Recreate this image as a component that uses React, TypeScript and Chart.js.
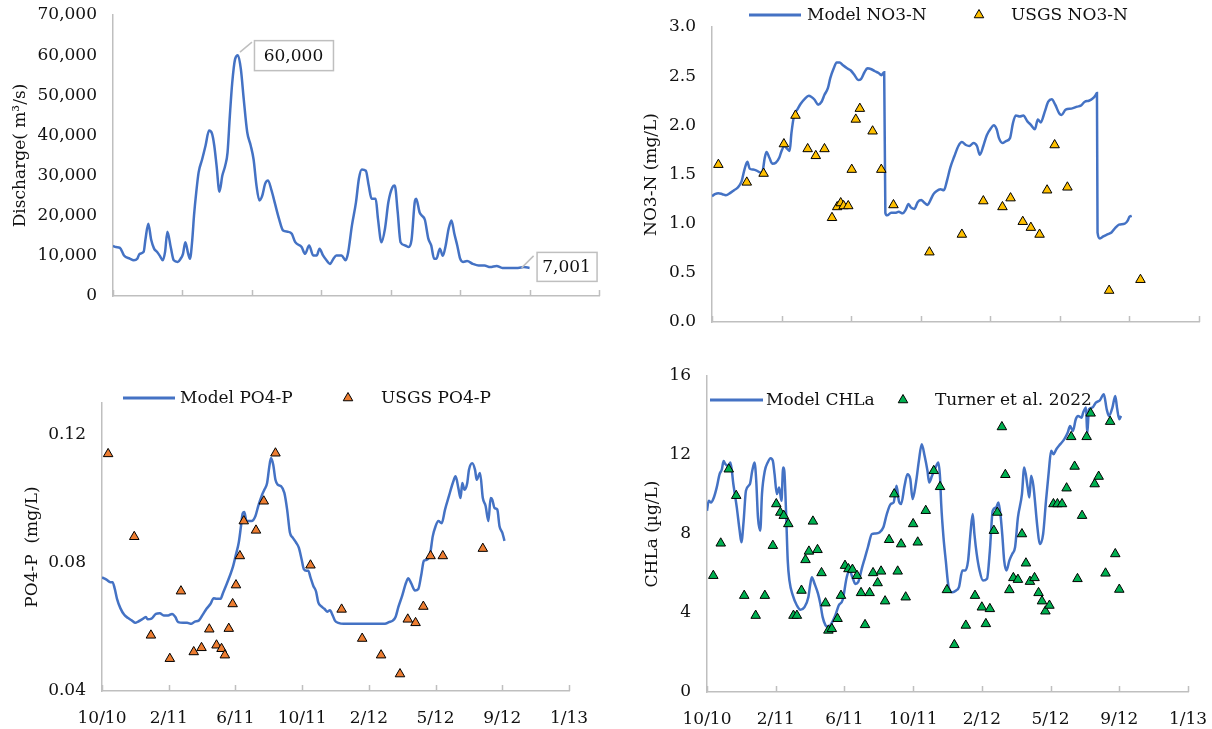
import React, { useEffect, useRef } from "react";
import { Chart, registerables } from "chart.js";
Chart.register(...registerables);

const FONT = "'DejaVu Serif', serif";
const BLUE = "#4472C4";
const AXIS = "#BFBFBF";
const TXT = "#111111";
const FS = 17;

// x axis: days since 10/9/2010, tick every 120 days
const tickLabels = ["10/10", "2/11", "6/11", "10/11", "2/12", "5/12", "9/12", "1/13"];
const TICK_STEP = 120;

// ---- Discharge (m3/s) ----
const dischargeDays = [0,5,12,19,29,36,42,46,53,56,61,66,71,76,81,86,90,94,100,105,112,117,121,125,130,133,137,140,144,148,154,160,166,171,175,179,184,189,194,198,202,206,211,216,221,226,232,238,243,248,253,258,263,268,274,280,287,294,302,309,315,326,332,339,346,352,357,363,369,375,381,386,395,402,406,413,420,425,430,437,442,447,454,458,464,470,476,483,487,492,497,505,511,516,522,524,530,534,539,545,550,555,559,565,570,575,580,585,590,595,600,605,612,622,632,642,652,663,673,686,700,710,720];
const dischargeValues = [12500,12200,12000,10100,9300,8900,9300,10500,11000,14000,18000,14000,11800,11000,10000,8900,11000,16000,12000,8900,8500,9300,10500,13400,10500,9300,14000,20000,26000,30800,34000,37500,41200,40500,37500,32500,26000,30000,32500,35800,45000,53000,59000,60000,56500,49000,40800,37500,34000,27500,23800,25000,28000,28800,26300,23000,19200,16300,16000,15500,13400,12200,10500,12600,10100,10100,11800,10100,8900,8000,9300,10100,10100,8900,10500,17600,23400,29200,31500,31200,27500,24200,24200,19200,13400,16700,23400,27100,27500,21000,13400,12600,12200,14000,23800,24200,20800,20000,19000,14300,12600,9300,9300,11800,10000,12600,16700,18800,15500,12600,9300,8500,8700,8000,7600,7600,7200,7500,7000,7000,7000,7200,7001];

// ---- NO3-N ----
const no3ModelDays = [0,5,11,18,24,31,38,44,51,56,61,65,71,77,84,87,91,94,99,104,110,116,120,125,130,134,137,142,147,153,160,167,171,177,183,189,194,200,204,210,215,220,226,233,239,246,252,257,263,268,275,281,288,292,297,299,302,309,316,322,329,334,339,343,349,355,361,365,372,376,382,387,394,400,405,411,418,425,431,438,444,451,457,462,468,474,481,486,491,495,501,507,514,519,524,531,537,544,550,557,562,567,574,580,586,592,599,603,610,620,630,636,643,650,656,661,664,665,669,675,682,689,696,702,712,717,720,724];
const no3ModelValues = [1.28,1.30,1.31,1.30,1.29,1.31,1.34,1.365,1.43,1.55,1.63,1.56,1.55,1.54,1.52,1.53,1.67,1.73,1.67,1.61,1.62,1.67,1.74,1.79,1.76,1.74,1.92,2.11,2.16,2.22,2.27,2.30,2.29,2.26,2.21,2.24,2.31,2.38,2.48,2.58,2.64,2.64,2.61,2.58,2.56,2.51,2.46,2.47,2.54,2.58,2.57,2.55,2.53,2.51,2.54,1.11,1.085,1.11,1.11,1.12,1.105,1.14,1.20,1.165,1.15,1.22,1.24,1.22,1.19,1.23,1.30,1.33,1.35,1.34,1.43,1.57,1.685,1.79,1.83,1.80,1.79,1.82,1.79,1.70,1.79,1.90,1.97,2.00,1.96,1.87,1.82,1.84,1.87,2.02,2.10,2.09,2.10,2.04,2.005,1.96,2.06,2.03,2.14,2.24,2.265,2.21,2.12,2.105,2.16,2.17,2.19,2.20,2.24,2.25,2.27,2.30,2.33,0.91,0.85,0.87,0.89,0.91,0.96,0.99,1.00,1.03,1.07,1.08];
const no3UsgsDays = [11,60,89,124,144,165,179,194,207,216,222,227,235,241,248,255,277,292,313,375,431,468,501,515,536,550,565,578,591,613,685,739];
const no3UsgsValues = [1.60,1.42,1.51,1.81,2.10,1.76,1.69,1.76,1.06,1.17,1.21,1.18,1.18,1.55,2.06,2.17,1.94,1.55,1.19,0.71,0.89,1.23,1.17,1.26,1.02,0.96,0.89,1.34,1.80,1.37,0.32,0.43];

// ---- PO4-P ----
const po4ModelDays = [0,8,15,19,23,27,33,40,47,54,60,65,72,79,82,89,97,104,111,119,126,132,137,146,153,161,167,174,181,188,195,201,206,213,218,223,230,236,241,246,250,253,256,260,269,276,281,287,292,297,301,304,308,312,316,322,328,333,338,343,349,354,359,363,368,371,375,380,385,389,394,400,405,410,415,419,425,435,449,470,491,509,516,523,528,533,540,547,551,556,563,569,574,579,584,590,595,600,605,611,617,624,631,636,641,645,648,652,657,660,666,671,674,680,685,690,695,699,702,706,711,715,720,724];
const po4ModelValues = [0.0755,0.0748,0.0740,0.0740,0.0719,0.0688,0.0659,0.0638,0.0628,0.0620,0.0613,0.0617,0.0624,0.0631,0.0624,0.0626,0.0641,0.0643,0.0636,0.0636,0.0641,0.0631,0.0615,0.0613,0.0613,0.0610,0.0617,0.0620,0.0638,0.0657,0.0672,0.0690,0.0688,0.0688,0.0708,0.0729,0.0760,0.0791,0.0827,0.0864,0.0915,0.0955,0.0959,0.0931,0.0931,0.0947,0.0978,0.1009,0.1029,0.1050,0.1102,0.1128,0.1107,0.1060,0.1045,0.1040,0.1019,0.0967,0.0895,0.0879,0.0864,0.0848,0.0812,0.0781,0.0776,0.0776,0.0755,0.0729,0.0711,0.0677,0.0665,0.0657,0.0648,0.0652,0.0636,0.0620,0.0613,0.0610,0.0610,0.0610,0.0610,0.0610,0.0615,0.0620,0.0631,0.0662,0.0698,0.0739,0.0752,0.0737,0.0714,0.0719,0.0760,0.0807,0.0810,0.0827,0.0884,0.0915,0.0931,0.0924,0.0967,0.1009,0.1050,0.1071,0.1034,0.1003,0.1050,0.1029,0.1050,0.1091,0.1112,0.1091,0.1060,0.1081,0.1003,0.0978,0.0931,0.1003,0.0998,0.0972,0.0967,0.0915,0.0895,0.0869];
const po4UsgsDays = [11,58,88,122,142,165,179,193,206,215,221,228,235,241,248,255,277,291,312,375,431,468,502,536,550,564,578,591,613,685];
const po4UsgsValues = [0.1141,0.0882,0.0574,0.0501,0.0712,0.0522,0.0535,0.0593,0.0543,0.0532,0.0512,0.0595,0.0672,0.0731,0.0822,0.0931,0.0902,0.0993,0.1143,0.0793,0.0655,0.0564,0.0512,0.0453,0.0624,0.0613,0.0664,0.0822,0.0822,0.0845];
const po4TickValues = [0.04, 0.08, 0.12];

// ---- CHLa ----
const chlModelDays = [0,3,7,12,17,22,26,29,32,37,41,46,52,57,60,64,68,75,79,83,86,89,93,96,101,106,111,115,118,122,126,130,133,135,138,141,144,150,157,163,170,177,180,183,188,194,198,202,207,212,217,224,230,237,244,249,254,259,264,271,276,281,288,294,301,308,314,321,326,331,335,339,345,350,355,359,365,370,375,380,385,388,393,398,404,407,409,413,417,422,429,435,440,446,451,456,460,464,467,471,476,482,489,494,499,505,509,513,516,519,523,528,533,538,543,550,554,560,563,566,570,577,581,587,592,597,601,605,610,617,624,630,634,639,644,648,654,657,662,664,667,673,679,686,693,698,702,708,713,716,720,723];
const chlModelValues = [9.18,9.68,9.60,9.85,10.36,11.03,11.28,11.7,11.54,11.45,11.62,10.53,9.35,8.17,7.58,8.67,10.19,10.53,11.2,11.62,10.69,8.84,8.17,10.02,11.2,11.62,11.84,11.7,11.03,10.02,10.36,9.68,11.37,11.2,9.18,6.65,5.64,4.88,4.38,4.16,4.29,4.8,5.39,5.81,5.47,4.97,4.46,3.79,3.37,3.28,3.45,3.87,4.38,4.67,5.81,6.15,5.81,5.47,5.56,6.32,6.82,7.33,8.0,8.03,8.08,8.34,9.01,9.52,9.6,10.44,9.68,9.52,10.44,11.03,10.78,9.77,10.61,11.7,12.55,11.96,11.2,10.61,10.95,11.28,11.62,10.86,9.52,7.83,6.65,5.31,5.05,5.14,5.31,6.15,6.15,6.65,8.0,9.01,8.0,6.99,6.15,5.64,5.73,7.16,9.18,9.35,9.6,8.84,7.83,6.65,6.15,6.65,6.99,7.33,8.84,10.02,11.37,10.36,9.85,10.95,10.44,8.34,7.49,8.0,9.68,11.2,12.21,12.04,12.29,12.55,12.8,13.14,13.47,13.22,13.81,13.98,13.89,14.15,14.4,13.05,14.32,14.4,14.65,14.77,15.07,14.32,13.98,14.4,14.99,14.4,13.81,13.98];
const turnerDays = [11,24,38,51,65,85,101,115,121,128,134,142,151,157,165,172,178,185,193,200,207,212,218,228,234,241,247,254,262,269,276,284,290,298,304,311,318,327,333,339,347,360,368,382,396,407,419,432,452,468,480,487,494,501,507,515,521,528,535,543,550,557,564,572,579,585,591,598,605,612,620,628,636,642,647,655,663,670,677,684,696,704,713,720];
const turnerValues = [5.89,7.53,11.28,9.94,4.88,3.87,4.88,7.41,9.52,9.09,8.93,8.51,3.87,3.87,5.14,6.69,7.12,8.64,7.2,6.03,4.5,3.12,3.2,3.71,4.88,6.4,6.23,6.2,5.89,5.02,3.4,5.02,6.03,5.52,6.11,4.6,7.71,10.02,6.11,7.49,4.8,8.51,7.58,9.18,11.2,10.39,5.17,2.39,3.37,4.88,4.29,3.45,4.21,8.17,9.09,13.42,11.0,5.17,5.78,5.69,8.0,6.52,5.59,5.78,5.02,4.6,4.09,4.38,9.52,9.52,9.52,10.32,12.92,11.42,5.73,8.93,12.92,14.11,10.53,10.91,6.01,13.69,6.99,5.19];

const pts = (days: number[], vals: number[]) => days.map((d, i) => ({ x: d, y: vals[i] }));

// ---------- plugins ----------
const innerTicks = {
  id: "innerTicks",
  afterDraw(chart: any) {
    const xs = chart.scales.x;
    const ctx = chart.ctx;
    const bottom = chart.chartArea.bottom;
    ctx.save();
    ctx.strokeStyle = AXIS;
    ctx.lineWidth = 1.5;
    xs.ticks.forEach((t: any) => {
      const px = Math.round(xs.getPixelForValue(t.value)) + 0.5;
      ctx.beginPath();
      ctx.moveTo(px, bottom);
      ctx.lineTo(px, bottom - 6);
      ctx.stroke();
    });
    ctx.restore();
  },
};

function drawTriangle(ctx: any, x: number, y: number, r: number, fill: string) {
  ctx.beginPath();
  ctx.moveTo(x, y - r);
  ctx.lineTo(x + r * 0.866, y + r * 0.5);
  ctx.lineTo(x - r * 0.866, y + r * 0.5);
  ctx.closePath();
  ctx.fillStyle = fill;
  ctx.fill();
  ctx.strokeStyle = "#000";
  ctx.lineWidth = 1;
  ctx.stroke();
}

type LegendItem = { lineFrom?: number; lineTo?: number; markerX?: number; textX: number };
function makeLegend(y: number, items: LegendItem[]) {
  return {
    id: "xlLegend",
    afterDraw(chart: any) {
      const ctx = chart.ctx;
      ctx.save();
      items.forEach((it, i) => {
        const ds: any = chart.data.datasets[i];
        if (it.lineFrom !== undefined) {
          ctx.strokeStyle = ds.borderColor;
          ctx.lineWidth = 3;
          ctx.beginPath();
          ctx.moveTo(it.lineFrom, y);
          ctx.lineTo(it.lineTo, y);
          ctx.stroke();
        } else {
          drawTriangle(ctx, it.markerX as number, y, ds.pointRadius, ds.pointBackgroundColor);
        }
        ctx.fillStyle = TXT;
        ctx.font = `${FS}px ${FONT}`;
        ctx.textBaseline = "middle";
        ctx.textAlign = "left";
        ctx.fillText(ds.label, it.textX, y + 1);
      });
      ctx.restore();
    },
  };
}

const callouts = {
  id: "callouts",
  afterDatasetsDraw(chart: any) {
    const ds = chart.data.datasets[0];
    const meta = chart.getDatasetMeta(0);
    const ys = ds.data.map((p: any) => p.y);
    let maxI = 0;
    ys.forEach((v: number, i: number) => { if (v > ys[maxI]) maxI = i; });
    const lastI = ys.length - 1;
    const ctx = chart.ctx;
    const fmt = (v: number) => v.toLocaleString("en-US");
    const draw = (i: number, lx0: number, ly0: number, lx1: number, ly1: number, bx: number, by: number, bw: number, bh: number) => {
      const p = meta.data[i];
      ctx.save();
      ctx.strokeStyle = AXIS;
      ctx.lineWidth = 1.5;
      ctx.beginPath();
      ctx.moveTo(p.x + lx0, p.y + ly0);
      ctx.lineTo(p.x + lx1, p.y + ly1);
      ctx.stroke();
      ctx.fillStyle = "#fff";
      ctx.fillRect(p.x + bx, p.y + by, bw, bh);
      ctx.strokeRect(p.x + bx + 0.5, p.y + by + 0.5, bw, bh);
      ctx.fillStyle = TXT;
      ctx.font = `${FS}px ${FONT}`;
      ctx.textAlign = "center";
      ctx.textBaseline = "middle";
      ctx.fillText(fmt(ys[i]), p.x + bx + bw / 2, p.y + by + bh / 2 + 1);
      ctx.restore();
    };
    draw(maxI, 2, -3, 14, -13, 16, -15, 79, 30);
    draw(lastI, -8, 0, 4, -12, 7, -16, 60, 29);
  },
};

// ---------- scale builders ----------
const tickFont = { family: FONT, size: FS };

function xScale(showLabels: boolean, height: number) {
  return {
    type: "linear",
    min: 0,
    max: TICK_STEP * (tickLabels.length - 1),
    afterBuildTicks: (s: any) => {
      s.ticks = tickLabels.map((_, i) => ({ value: i * TICK_STEP }));
    },
    afterFit: (s: any) => {
      s.height = height;
    },
    ticks: {
      display: showLabels,
      autoSkip: false,
      maxRotation: 0,
      padding: 2,
      font: tickFont,
      color: TXT,
      callback: (v: number) => tickLabels[Math.round(v / TICK_STEP)] ?? "",
    },
    grid: { display: false, drawTicks: true, tickLength: 15 },
    border: { display: true, color: AXIS, width: 1.5 },
  };
}

function yScale(o: { min: number; max: number; step?: number; fmt: (v: number) => string; title: string; titlePad: number; width: number; fixedTicks?: number[] }) {
  return {
    type: "linear",
    min: o.min,
    max: o.max,
    afterFit: (s: any) => {
      s.width = o.width;
    },
    afterBuildTicks: o.fixedTicks
      ? (s: any) => {
          s.ticks = (o.fixedTicks as number[]).map((v) => ({ value: v }));
        }
      : undefined,
    ticks: {
      stepSize: o.step,
      padding: 2,
      font: tickFont,
      color: TXT,
      callback: (v: number) => o.fmt(Number(v)),
    },
    grid: { display: false, drawTicks: true, tickLength: 14 },
    border: { display: true, color: AXIS, width: 1.5 },
    title: {
      display: true,
      text: o.title,
      font: { family: FONT, size: FS },
      color: TXT,
      padding: { top: o.titlePad, bottom: 0 },
    },
  };
}

const lineDs = (label: string, data: any[]) => ({
  label,
  data,
  borderColor: BLUE,
  backgroundColor: BLUE,
  borderWidth: 2.5,
  pointRadius: 0,
  cubicInterpolationMode: "monotone",
  fill: false,
  order: 1,
});

const triDs = (label: string, data: any[], color: string) => ({
  label,
  data,
  showLine: false,
  pointStyle: "triangle",
  pointRadius: 5.5,
  pointBackgroundColor: color,
  pointBorderColor: "#000",
  pointBorderWidth: 1,
  borderColor: "#000",
  backgroundColor: color,
  order: 0,
});

const common = {
  responsive: false,
  animation: false,
  events: [],
  plugins: { legend: { display: false }, tooltip: { enabled: false } },
};

// ---------- panel configs ----------
function dischargeConfig(): any {
  return {
    type: "line",
    data: { datasets: [lineDs("Discharge", pts(dischargeDays, dischargeValues))] },
    options: {
      ...common,
      layout: { padding: { left: 0, right: 11, top: 15, bottom: 13 } },
      scales: {
        x: xScale(false, 1),
        y: yScale({ min: 0, max: 70000, step: 10000, fmt: (v) => v.toLocaleString("en-US"), title: "Discharge( m³/s)", titlePad: 10, width: 113 }),
      },
    },
    plugins: [innerTicks, callouts],
  };
}

function no3Config(): any {
  return {
    type: "line",
    data: {
      datasets: [
        lineDs("Model NO3-N", pts(no3ModelDays, no3ModelValues)),
        triDs("USGS NO3-N", pts(no3UsgsDays, no3UsgsValues), "#FFC000"),
      ],
    },
    options: {
      ...common,
      layout: { padding: { left: 0, right: 13, top: 27, bottom: 17 } },
      scales: {
        x: xScale(false, 1),
        y: yScale({ min: 0, max: 3, step: 0.5, fmt: (v) => v.toFixed(1), title: "NO3-N (mg/L)", titlePad: 31, width: 102 }),
      },
    },
    plugins: [innerTicks, makeLegend(15, [{ lineFrom: 139, lineTo: 191, textX: 197 }, { markerX: 369, textX: 401 }])],
  };
}

function po4Config(): any {
  return {
    type: "line",
    data: {
      datasets: [
        lineDs("Model PO4-P", pts(po4ModelDays, po4ModelValues)),
        triDs("USGS PO4-P", pts(po4UsgsDays, po4UsgsValues), "#ED7D31"),
      ],
    },
    options: {
      ...common,
      layout: { padding: { left: 0, right: 41, top: 43, bottom: 0 } },
      scales: {
        x: xScale(true, 38),
        y: yScale({ min: 0.04, max: 0.13, fmt: (v) => v.toFixed(2), title: "PO4-P  (mg/L)", titlePad: 22, width: 102, fixedTicks: po4TickValues }),
      },
    },
    plugins: [innerTicks, makeLegend(38, [{ lineFrom: 123, lineTo: 175, textX: 180 }, { markerX: 348, textX: 381 }])],
  };
}

function chlConfig(): any {
  return {
    type: "line",
    data: {
      datasets: [
        lineDs("Model CHLa", pts(chlModelDays, chlModelValues)),
        triDs("Turner et al. 2022", pts(turnerDays, turnerValues), "#00B050"),
      ],
    },
    options: {
      ...common,
      layout: { padding: { left: 0, right: 24, top: 16, bottom: 0 } },
      scales: {
        x: xScale(true, 37),
        y: yScale({ min: 0, max: 16, step: 4, fmt: (v) => String(v), title: "CHLa (µg/L)", titlePad: 32, width: 97 }),
      },
    },
    plugins: [innerTicks, makeLegend(40, [{ lineFrom: 100, lineTo: 153, textX: 156 }, { markerX: 293, textX: 325 }])],
  };
}

function Panel(props: { left: number; top: number; width: number; height: number; build: () => any }) {
  const ref = useRef<HTMLCanvasElement>(null);
  useEffect(() => {
    const chart = new Chart(ref.current as HTMLCanvasElement, props.build());
    return () => chart.destroy();
  }, []);
  return (
    <canvas
      ref={ref}
      width={props.width}
      height={props.height}
      style={{ position: "absolute", left: props.left, top: props.top, width: props.width, height: props.height }}
    />
  );
}

export default function App() {
  return (
    <div style={{ position: "absolute", left: 0, top: 0, width: 1212, height: 729, background: "#fff", overflow: "hidden" }}>
      <Panel left={0} top={0} width={610} height={310} build={dischargeConfig} />
      <Panel left={610} top={0} width={602} height={340} build={no3Config} />
      <Panel left={0} top={360} width={610} height={369} build={po4Config} />
      <Panel left={610} top={360} width={602} height={369} build={chlConfig} />
    </div>
  );
}
